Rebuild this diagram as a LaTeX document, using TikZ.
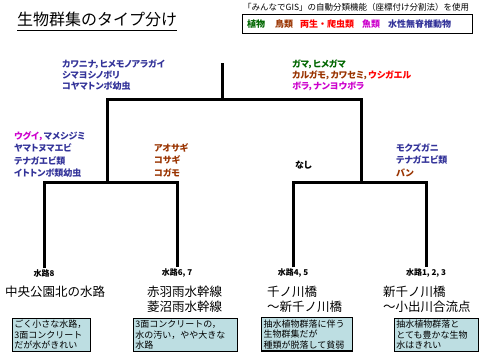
\documentclass[tikz,border=0pt]{standalone}
\usepackage{fontspec}
\setmainfont{Noto Sans CJK JP}
\newfontfamily\jpprop{Noto Sans CJK JP}[RawFeature=+palt]
\usepackage{tikz}
\usetikzlibrary{positioning, calc}

\definecolor{invblue}{RGB}{51,51,153}
\definecolor{birdbrown}{RGB}{153,51,0}
\definecolor{plantgreen}{RGB}{0,102,0}
\definecolor{amphred}{RGB}{255,0,0}
\definecolor{fishmag}{RGB}{204,0,204}
\definecolor{notefill}{RGB}{189,222,226}

\begin{document}
\begin{tikzpicture}[x=1pt, y=-1pt,
  branch/.style={line width=3pt},
  species/.style={font=\jpprop\bfseries\fontsize{9}{#1}\selectfont, align=left, anchor=north west, inner sep=0pt},
  species/.default=12.5,
  site/.style={font=\bfseries\fontsize{8}{9}\selectfont, inner sep=1pt},
  station/.style={font=\fontsize{12.5}{15}\selectfont, align=left, anchor=north west, inner sep=0pt},
  note/.style={draw, line width=0.8pt, fill=notefill, anchor=north west, align=left, inner sep=2pt, font=\fontsize{9}{10.5}\selectfont},
  legend/.style={font=\bfseries\fontsize{9}{10}\selectfont, anchor=west, inner sep=0pt}]

  \useasboundingbox (0,0) rectangle (480,359);

  % --- Title and header ---
  \node[font=\fontsize{16}{18}\selectfont, anchor=west, inner sep=0pt] (title) at (17,19.5) {生物群集のタイプ分け};
  \draw[line width=1.2pt] ([yshift=-3pt]title.south west) -- ([yshift=-3pt]title.south east);
  \node[font=\fontsize{8.5}{10}\selectfont, anchor=west, inner sep=0pt] (hdr) at (243,7.5)
    {「みんなでGIS」の自動分類機能（座標付け分割法）を使用};

  % --- Legend ---
  \draw[line width=0.8pt] (242,14) rectangle (472,33);
  \node[legend, text=plantgreen] (lgPlant) at (247,24) {植物};
  \node[legend, text=birdbrown] (lgBird) at (275,24) {鳥類};
  \node[legend, text=amphred] (lgAmph) at (300,24) {両生・爬虫類};
  \node[legend, text=fishmag] (lgFish) at (362,24) {魚類};
  \node[legend, text=invblue] (lgInvert) at (388,24) {水性無脊椎動物};

  % --- Dendrogram ---
  \coordinate (rootTop) at (222,63);
  \coordinate (rootJ) at (222,99);
  \coordinate (leftJ) at (107,182);
  \coordinate (rightJ) at (361,182);

  \node[site] (w8) at (44,273) {水路8};
  \node[site] (w67) at (177,273) {水路6, 7};
  \node[site] (w45) at (293,273) {水路4, 5};
  \node[site] (w123) at (426,273) {水路1, 2, 3};

  \draw[branch] (rootTop) -- (rootJ);
  \draw[branch] (leftJ) |- (rootJ) -| (rightJ);
  \draw[branch] (w8.north) |- (leftJ) -| (w67.north);
  \draw[branch] (w45.north) |- (rightJ) -| (w123.north);

  % --- Species lists ---
  \node[species=11, text=invblue] (spTopL) at (62,60)
    {カワニナ，ヒメモノアラガイ\\シマヨシノボリ\\コヤマトンボ幼虫};
  \node[species=11] (spTopR) at (292,60)
    {\textcolor{plantgreen}{ガマ，ヒメガマ}\\
     \textcolor{birdbrown}{カルガモ，カワセミ，}\textcolor{amphred}{ウシガエル}\\
     \textcolor{fishmag}{ボラ，ナンヨウボラ}};
  \node[species, text=invblue] (sp8) at (14,131)
    {\textcolor{fishmag}{ウグイ，}マメシジミ\\ヤマトヌマエビ\\テナガエビ類\\イトトンボ類幼虫};
  \node[species, text=birdbrown] (sp67) at (154,143) {アオサギ\\コサギ\\コガモ};
  \node[species] (sp45) at (295,161) {なし};
  \node[species, text=invblue] (sp123) at (396,143)
    {モクズガニ\\テナガエビ類\\\textcolor{birdbrown}{バン}};

  % --- Station names ---
  \node[station] (st8) at (5,286) {中央公園北の水路};
  \node[station] (st67) at (147,286) {赤羽雨水幹線\\菱沼雨水幹線};
  \node[station] (st45) at (267,286) {千ノ川橋\\～新千ノ川橋};
  \node[station] (st123) at (383,286) {新千ノ川橋\\～小出川合流点};

  % --- Notes ---
  \node[note, text width=74, minimum height=31] (nt8) at (12,318)
    {ごく小さな水路，\\3面コンクリート\\だが水がきれい};
  \node[note, text width=100, minimum height=32] (nt67) at (133,318)
    {3面コンクリートの，\\水の汚い，やや大きな\\水路};
  \node[note, line width=1.2pt, text width=87, minimum height=31] (nt45) at (261,317)
    {抽水植物群落に伴う\\生物群集だが\\種類が脱落して貧弱};
  \node[note, text width=80, minimum height=32] (nt123) at (394,318)
    {抽水植物群落と\\とても豊かな生物\\水はきれい};

\end{tikzpicture}
\end{document}
